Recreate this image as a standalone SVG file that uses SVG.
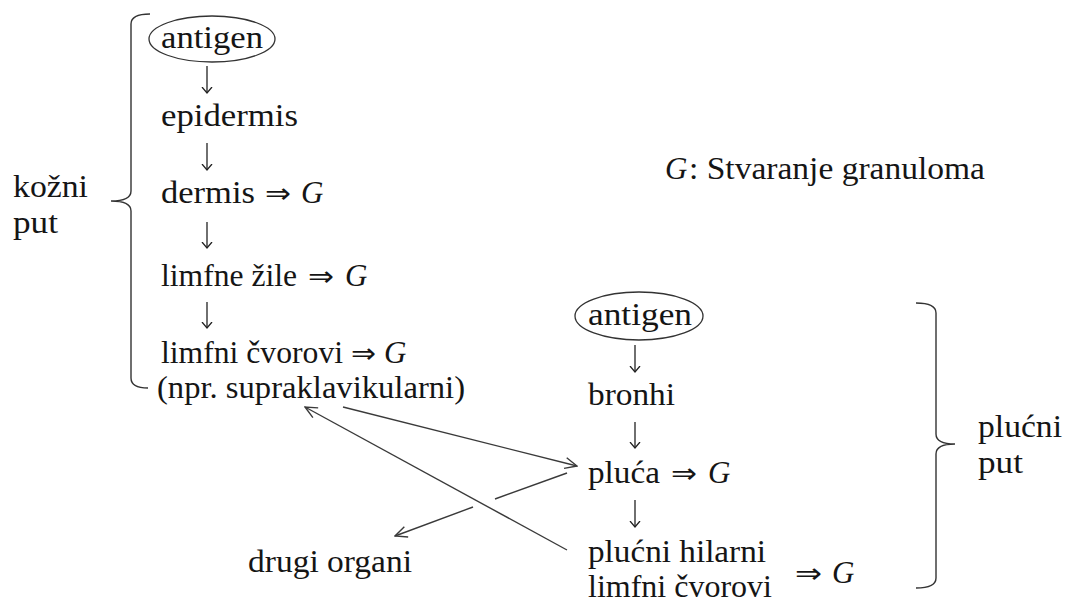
<svg xmlns="http://www.w3.org/2000/svg" width="1065" height="603" viewBox="0 0 1065 603">
<style>
.t{font-family:'Liberation Serif','Times New Roman',serif;font-size:32px;fill:#151515}
.g{font-family:'Liberation Serif','Times New Roman',serif;font-size:31px;font-style:italic;fill:#151515}
.imp{font-family:'DejaVu Sans',sans-serif;font-size:28px;fill:#151515}
.ln{stroke:#333;stroke-width:1.4;fill:none}
.dn{stroke:#222;stroke-width:1.3;fill:none;marker-end:url(#sh)}
.cn{stroke:#3a3a3a;stroke-width:1.4;fill:none}
.ov{stroke:#333;stroke-width:1.3;fill:none}
</style>
<defs>
<marker id="sh" viewBox="0 0 12 14" refX="6" refY="7" markerWidth="12" markerHeight="14" markerUnits="userSpaceOnUse" orient="auto">
<path d="M0,2 L6,7 L0,12" fill="none" stroke="#222" stroke-width="1.3"/>
</marker>
<marker id="ah" viewBox="0 0 14 14" refX="13" refY="7" markerWidth="14" markerHeight="14" markerUnits="userSpaceOnUse" orient="auto">
<path d="M1,1.5 L13,7 L1,12.5" fill="none" stroke="#3a3a3a" stroke-width="1.4"/>
</marker>
</defs>
<rect width="1065" height="603" fill="#fff"/>

<g id="legend">
<text class="g" x="665" y="179">G</text>
<text class="t" x="689" y="179" textLength="296" lengthAdjust="spacingAndGlyphs">: Stvaranje granuloma</text>
</g>

<g id="kozni-put">
<path class="ln" d="M150,14 Q131,14 131,24 L131,191 Q131,201 111,201 Q131,201 131,211 L131,378 Q131,388 148,388"/>
<text class="t" x="13" y="197" textLength="75" lengthAdjust="spacingAndGlyphs">kožni</text>
<text class="t" x="13" y="233" textLength="45" lengthAdjust="spacingAndGlyphs">put</text>
</g>

<g id="antigen1">
<ellipse class="ov" cx="212" cy="39" rx="63" ry="23"/>
<text class="t" x="161" y="48" textLength="102" lengthAdjust="spacingAndGlyphs">antigen</text>
</g>
<g id="epidermis">
<text class="t" x="161" y="126" textLength="137" lengthAdjust="spacingAndGlyphs">epidermis</text>
</g>
<g id="dermis">
<text class="t" x="161" y="203" textLength="94" lengthAdjust="spacingAndGlyphs">dermis</text>
<text class="imp" x="265" y="203" textLength="26" lengthAdjust="spacingAndGlyphs">⇒</text>
<text class="g" x="301" y="203">G</text>
</g>
<g id="limfne-zile">
<text class="t" x="161" y="286" textLength="136" lengthAdjust="spacingAndGlyphs">limfne žile</text>
<text class="imp" x="308" y="286" textLength="26" lengthAdjust="spacingAndGlyphs">⇒</text>
<text class="g" x="345" y="286">G</text>
</g>
<g id="limfni-cvorovi1">
<text class="t" x="161" y="363" textLength="182" lengthAdjust="spacingAndGlyphs">limfni čvorovi</text>
<text class="imp" x="351" y="363" textLength="25" lengthAdjust="spacingAndGlyphs">⇒</text>
<text class="g" x="384" y="363">G</text>
<text class="t" x="157" y="398" textLength="308" lengthAdjust="spacingAndGlyphs">(npr. supraklavikularni)</text>
</g>

<g id="antigen2">
<ellipse class="ov" cx="639" cy="316" rx="64" ry="24"/>
<text class="t" x="588" y="325" textLength="104" lengthAdjust="spacingAndGlyphs">antigen</text>
</g>
<g id="bronhi">
<text class="t" x="588" y="405" textLength="87" lengthAdjust="spacingAndGlyphs">bronhi</text>
</g>
<g id="pluca">
<text class="t" x="588" y="483" textLength="72" lengthAdjust="spacingAndGlyphs">pluća</text>
<text class="imp" x="671" y="483" textLength="26" lengthAdjust="spacingAndGlyphs">⇒</text>
<text class="g" x="708" y="483">G</text>
</g>
<g id="hilarni">
<text class="t" x="588" y="562" textLength="178" lengthAdjust="spacingAndGlyphs">plućni hilarni</text>
<text class="t" x="588" y="597" textLength="184" lengthAdjust="spacingAndGlyphs">limfni čvorovi</text>
<text class="imp" x="795" y="583" textLength="27" lengthAdjust="spacingAndGlyphs">⇒</text>
<text class="g" x="832" y="583">G</text>
</g>
<g id="drugi-organi">
<text class="t" x="248" y="572" textLength="164" lengthAdjust="spacingAndGlyphs">drugi organi</text>
</g>

<g id="plucni-put">
<path class="ln" d="M916,303 Q936,303 936,313 L936,434 Q936,444 955,444 Q936,444 936,454 L936,578 Q936,588 916,588"/>
<text class="t" x="978" y="437" textLength="84" lengthAdjust="spacingAndGlyphs">plućni</text>
<text class="t" x="978" y="473" textLength="45" lengthAdjust="spacingAndGlyphs">put</text>
</g>

<g id="connectors">
<line class="dn" x1="207" y1="66" x2="207" y2="93"/>
<line class="dn" x1="207" y1="143" x2="207" y2="170"/>
<line class="dn" x1="207" y1="222" x2="207" y2="248"/>
<line class="dn" x1="207" y1="302" x2="207" y2="328"/>
<line class="dn" x1="635" y1="345" x2="635" y2="372"/>
<line class="dn" x1="635" y1="422" x2="635" y2="448"/>
<line class="dn" x1="635" y1="500" x2="635" y2="527"/>
<line class="cn" x1="343" y1="407" x2="577" y2="466" marker-end="url(#ah)"/>
<line class="cn" x1="567" y1="550" x2="305" y2="407" marker-end="url(#ah)"/>
<line class="cn" x1="567" y1="473" x2="495" y2="499"/>
<line class="cn" x1="473" y1="507" x2="395" y2="536" marker-end="url(#ah)"/>
</g>
</svg>
